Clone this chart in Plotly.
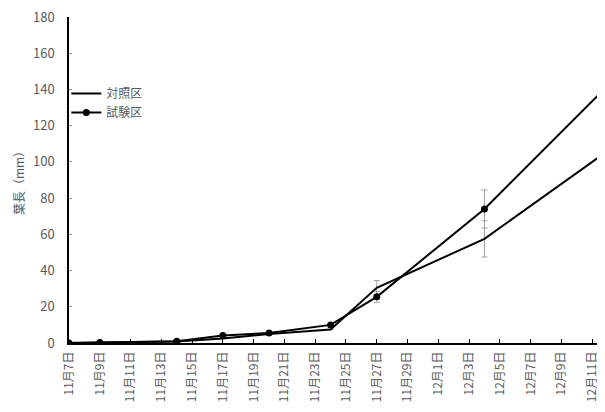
import plotly.graph_objects as go

dates = ["2020-11-07", "2020-11-09", "2020-11-14", "2020-11-17", "2020-11-20",
         "2020-11-24", "2020-11-27", "2020-12-04", "2020-12-12"]
control = [0, 0.2, 0.8, 2.5, 5.0, 7.5, 30.5, 57.5, 106]
control_err = [None, None, None, None, None, None, 4, 10, 20]
trial = [0, 0.3, 1.0, 4.2, 5.5, 10.0, 25.5, 74, 142]
trial_err = [None, None, None, None, None, None, 3, 10.5, 21]

tick_vals = ["2020-11-07", "2020-11-09", "2020-11-11", "2020-11-13", "2020-11-15",
             "2020-11-17", "2020-11-19", "2020-11-21", "2020-11-23", "2020-11-25",
             "2020-11-27", "2020-11-29", "2020-12-01", "2020-12-03", "2020-12-05",
             "2020-12-07", "2020-12-09", "2020-12-11"]
tick_text = ["11月7日", "11月9日", "11月11日", "11月13日", "11月15日", "11月17日",
             "11月19日", "11月21日", "11月23日", "11月25日", "11月27日", "11月29日",
             "12月1日", "12月3日", "12月5日", "12月7日", "12月9日", "12月11日"]

font = "Noto Sans CJK JP"
gray = "#595959"

fig = go.Figure()
fig.add_trace(go.Scatter(
    x=dates, y=control, name="対照区", mode="lines",
    line=dict(color="black", width=2),
    error_y=dict(type="data", array=control_err, visible=True,
                 color="#a0a0a0", thickness=1, width=3),
))
fig.add_trace(go.Scatter(
    x=dates, y=trial, name="試験区", mode="lines+markers",
    line=dict(color="black", width=2),
    marker=dict(color="black", size=7, symbol="circle"),
    error_y=dict(type="data", array=trial_err, visible=True,
                 color="#a0a0a0", thickness=1, width=3),
))

fig.update_layout(
    width=597, height=396,
    margin=dict(l=61, r=0, t=9, b=61),
    paper_bgcolor="white", plot_bgcolor="white",
    font=dict(family=font, size=12, color=gray),
    showlegend=True,
    legend=dict(x=-0.005, y=0.81, xanchor="left", yanchor="top",
                bgcolor="rgba(0,0,0,0)", font=dict(size=12, color=gray),
                itemwidth=30, tracegroupgap=0),
)
fig.update_xaxes(
    type="date", automargin=False,
    range=["2020-11-07", "2020-12-11 20:00"],
    tickvals=tick_vals, ticktext=tick_text, tickangle=-90,
    showline=True, linecolor="black", linewidth=1.5,
    ticks="inside", ticklen=4, tickcolor="black", tickwidth=1,
    showgrid=False, zeroline=False, ticklabeloverflow="allow",
    ticklabelstandoff=2,
    tickfont=dict(size=12, color=gray, family=font),
)
fig.update_yaxes(
    range=[0, 180], dtick=20, tick0=0, automargin=False,
    showline=True, linecolor="black", linewidth=1.5,
    ticks="inside", ticklen=3, tickcolor="#999999", tickwidth=1,
    showgrid=False, zeroline=False, ticklabeloverflow="allow",
    ticklabelstandoff=10,
    title=dict(text="葉長（mm）", font=dict(size=12, color=gray, family=font), standoff=6),
    tickfont=dict(size=13, color=gray, family=font),
)

fig.write_html("out.html")
